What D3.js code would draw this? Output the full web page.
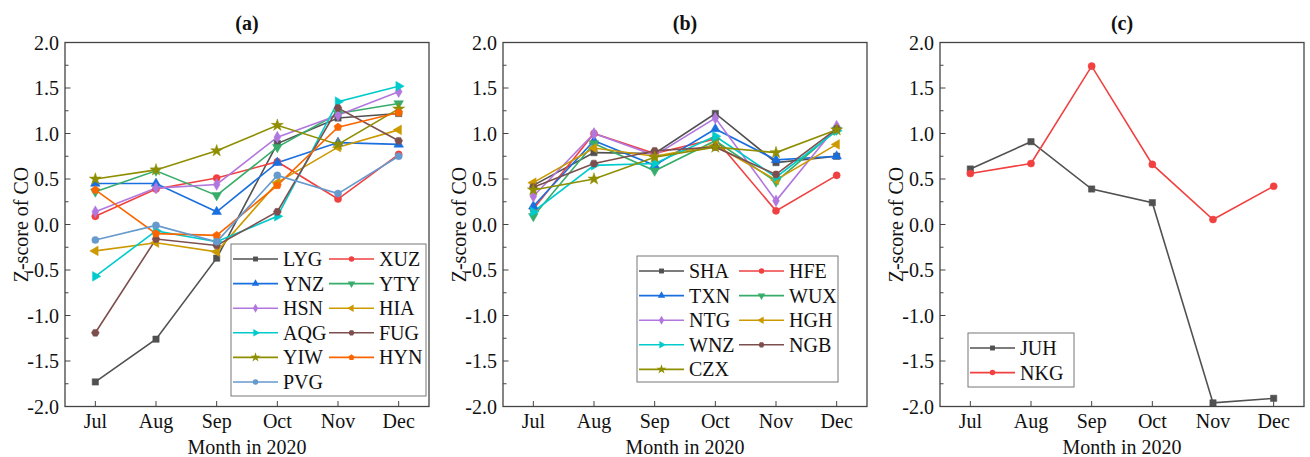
<!DOCTYPE html>
<html>
<head>
<meta charset="utf-8">
<script src="https://cdn.jsdelivr.net/npm/d3@7"></script>
<style>
  body { margin: 0; background: #fff; }
  text { font-family: "Liberation Serif", "Times New Roman", serif; fill: #111; }
</style>
</head>
<body>
<svg id="chart" width="1310" height="457"></svg>
<script>
// months and ticks
const months = ["Jul", "Aug", "Sep", "Oct", "Nov", "Dec"];
const yTicks = [2.0, 1.5, 1.0, 0.5, 0.0, -0.5, -1.0, -1.5, -2.0];

// panel (a)
const LYG = [-1.73, -1.26, -0.37, 0.89, 1.17, 1.22];
const XUZ = [0.09, 0.39, 0.51, 0.69, 0.28, 0.77];
const YNZ = [0.45, 0.45, 0.14, 0.68, 0.90, 0.88];
const YTY = [0.36, 0.59, 0.32, 0.85, 1.22, 1.33];
const HSN = [0.14, 0.40, 0.44, 0.96, 1.20, 1.46];
const HIA = [-0.29, -0.20, -0.30, 0.46, 0.85, 1.04];
const AQG = [-0.57, -0.07, -0.19, 0.09, 1.35, 1.52];
const FUG = [-1.19, -0.16, -0.23, 0.14, 1.28, 0.92];
const YIW = [0.50, 0.60, 0.81, 1.09, 0.88, 1.27];
const HYN = [0.38, -0.10, -0.12, 0.43, 1.07, 1.23];
const PVG = [-0.17, -0.01, -0.19, 0.54, 0.34, 0.75];

// panel (b)
const SHA = [0.43, 0.79, 0.78, 1.22, 0.68, 0.75];
const HFE = [0.17, 1.00, 0.78, 0.94, 0.15, 0.54];
const TXN = [0.20, 0.92, 0.65, 1.05, 0.71, 0.75];
const WUX = [0.09, 0.89, 0.59, 0.92, 0.47, 1.04];
const NTG = [0.31, 1.00, 0.76, 1.17, 0.26, 1.08];
const HGH = [0.46, 0.84, 0.75, 0.87, 0.49, 0.88];
const WNZ = [0.14, 0.65, 0.67, 0.97, 0.52, 1.03];
const NGB = [0.41, 0.67, 0.81, 0.85, 0.55, 1.05];
const CZX = [0.38, 0.50, 0.74, 0.85, 0.79, 1.04];

// panel (c)
const JUH = [0.61, 0.91, 0.39, 0.24, -1.96, -1.91];
const NKG = [0.56, 0.67, 1.74, 0.66, 0.055, 0.42];

const colors = ["#515151", "#F14040", "#1A6FDF", "#37AD6B", "#B177DE", "#CC9900",
                "#00CBCC", "#7D4E4E", "#8E8E00", "#FB6501", "#6699CC"];

// custom polygon symbols
function polygon(n, rot) {
  return {
    draw(ctx, size) {
      let r = Math.sqrt(size / (n * 0.5 * Math.sin(2 * Math.PI / n)));
      for (let i = 0; i < n; i++) {
        let a = rot + i * 2 * Math.PI / n;
        let x = r * Math.sin(a), y = -r * Math.cos(a);
        if (i === 0) ctx.moveTo(x, y); else ctx.lineTo(x, y);
      }
      ctx.closePath();
    }
  };
}
const symbols = [
  d3.symbolSquare, d3.symbolCircle, polygon(3, 0), polygon(3, Math.PI),
  d3.symbolDiamond, polygon(3, -Math.PI / 2), polygon(3, Math.PI / 2),
  polygon(6, Math.PI / 6), d3.symbolStar, polygon(5, 0), d3.symbolCircle
];

const panels = [
  {title: "(a)", x0: 65,
   series: [["LYG", LYG], ["XUZ", XUZ], ["YNZ", YNZ], ["YTY", YTY], ["HSN", HSN], ["HIA", HIA],
            ["AQG", AQG], ["FUG", FUG], ["YIW", YIW], ["HYN", HYN], ["PVG", PVG]],
   legend: {x: 231, y: 244, w: 195, h: 152, col2: 96}},
  {title: "(b)", x0: 503,
   series: [["SHA", SHA], ["HFE", HFE], ["TXN", TXN], ["WUX", WUX], ["NTG", NTG], ["HGH", HGH],
            ["WNZ", WNZ], ["NGB", NGB], ["CZX", CZX]],
   legend: {x: 637, y: 256, w: 201, h: 126, col2: 100}},
  {title: "(c)", x0: 940,
   series: [["JUH", JUH], ["NKG", NKG]],
   legend: {x: 968, y: 333, w: 106, h: 54, col2: 0}, cols: 1}
];

const svg = d3.select("#chart");
const plotW = 364, plotTop = 42.5, plotH = 364;

panels.forEach(p => {
  let g = svg.append("g").attr("transform", `translate(${p.x0},${plotTop})`);
  let x = d3.scaleLinear().domain([-0.5, 5.5]).range([0, plotW]);
  let y = d3.scaleLinear().domain([-2, 2]).range([plotH, 0]);

  // inward ticks, minor every 0.25
  let minor = d3.range(-2, 2.001, 0.25);
  g.selectAll(".ymin").data(minor).join("line")
    .attr("x1", 0).attr("x2", d => (Math.abs(d * 2 - Math.round(d * 2)) < 1e-6) ? 5.5 : 3.5)
    .attr("y1", d => y(d)).attr("y2", d => y(d))
    .attr("stroke", "#444").attr("stroke-width", 1);
  g.selectAll(".xt").data(months).join("line")
    .attr("x1", (d, i) => x(i)).attr("x2", (d, i) => x(i))
    .attr("y1", plotH).attr("y2", plotH - 5.5)
    .attr("stroke", "#444").attr("stroke-width", 1);

  g.selectAll(".ylab").data(yTicks).join("text")
    .attr("x", -6).attr("y", d => y(d)).attr("dy", "0.35em")
    .attr("text-anchor", "end").style("font-size", "20px")
    .text(d => d.toFixed(1));
  g.selectAll(".xlab").data(months).join("text")
    .attr("x", (d, i) => x(i)).attr("y", plotH + 21.5)
    .attr("text-anchor", "middle").style("font-size", "20px")
    .text(d => d);

  g.append("text").attr("x", plotW / 2).attr("y", plotH + 47.5)
    .attr("text-anchor", "middle").style("font-size", "20px").text("Month in 2020");
  g.append("text").attr("transform", `translate(-37,${plotH / 2}) rotate(-90)`)
    .attr("text-anchor", "middle").style("font-size", "20px").text("Z-score of CO");
  g.append("text").attr("x", plotW / 2).attr("y", -13)
    .attr("text-anchor", "middle").style("font-size", "20px").style("font-weight", "bold")
    .text(p.title);

  let line = d3.line().x((d, i) => x(i)).y(d => y(d));
  p.series.forEach(([name, vals], k) => {
    g.append("path").attr("d", line(vals)).attr("fill", "none")
      .attr("stroke", colors[k]).attr("stroke-width", 1.6);
  });
  p.series.forEach(([name, vals], k) => {
    let sym = d3.symbol().type(symbols[k]).size(k === 8 ? 45 : 40);
    g.selectAll(".m" + k).data(vals).join("path")
      .attr("d", sym)
      .attr("transform", (d, i) => `translate(${x(i)},${y(d)})`)
      .attr("fill", colors[k]).attr("stroke", colors[k]).attr("stroke-width", 0.5);
  });

  g.append("rect").attr("width", plotW).attr("height", plotH)
    .attr("fill", "none").attr("stroke", "#444").attr("stroke-width", 1.3);

  // legend
  let L = p.legend;
  let lg = svg.append("g");
  lg.append("rect").attr("x", L.x).attr("y", L.y).attr("width", L.w).attr("height", L.h)
    .attr("fill", "#fff").attr("stroke", "#777").attr("stroke-width", 1);
  let cols = p.cols || 2;
  p.series.forEach(([name, vals], k) => {
    let r = Math.floor(k / cols), c = k % cols;
    let lx = L.x + 2 + c * L.col2, ly = L.y + 15 + r * 24.6;
    lg.append("line").attr("x1", lx).attr("x2", lx + 45).attr("y1", ly).attr("y2", ly)
      .attr("stroke", colors[k]).attr("stroke-width", 1.6);
    lg.append("path").attr("d", d3.symbol().type(symbols[k]).size(k === 8 ? 30 : 24)())
      .attr("transform", `translate(${lx + 22.5},${ly})`).attr("fill", colors[k]);
    lg.append("text").attr("x", lx + 50).attr("y", ly).attr("dy", "0.35em")
      .style("font-size", "20px").text(name);
  });
});
</script>
</body>
</html>
